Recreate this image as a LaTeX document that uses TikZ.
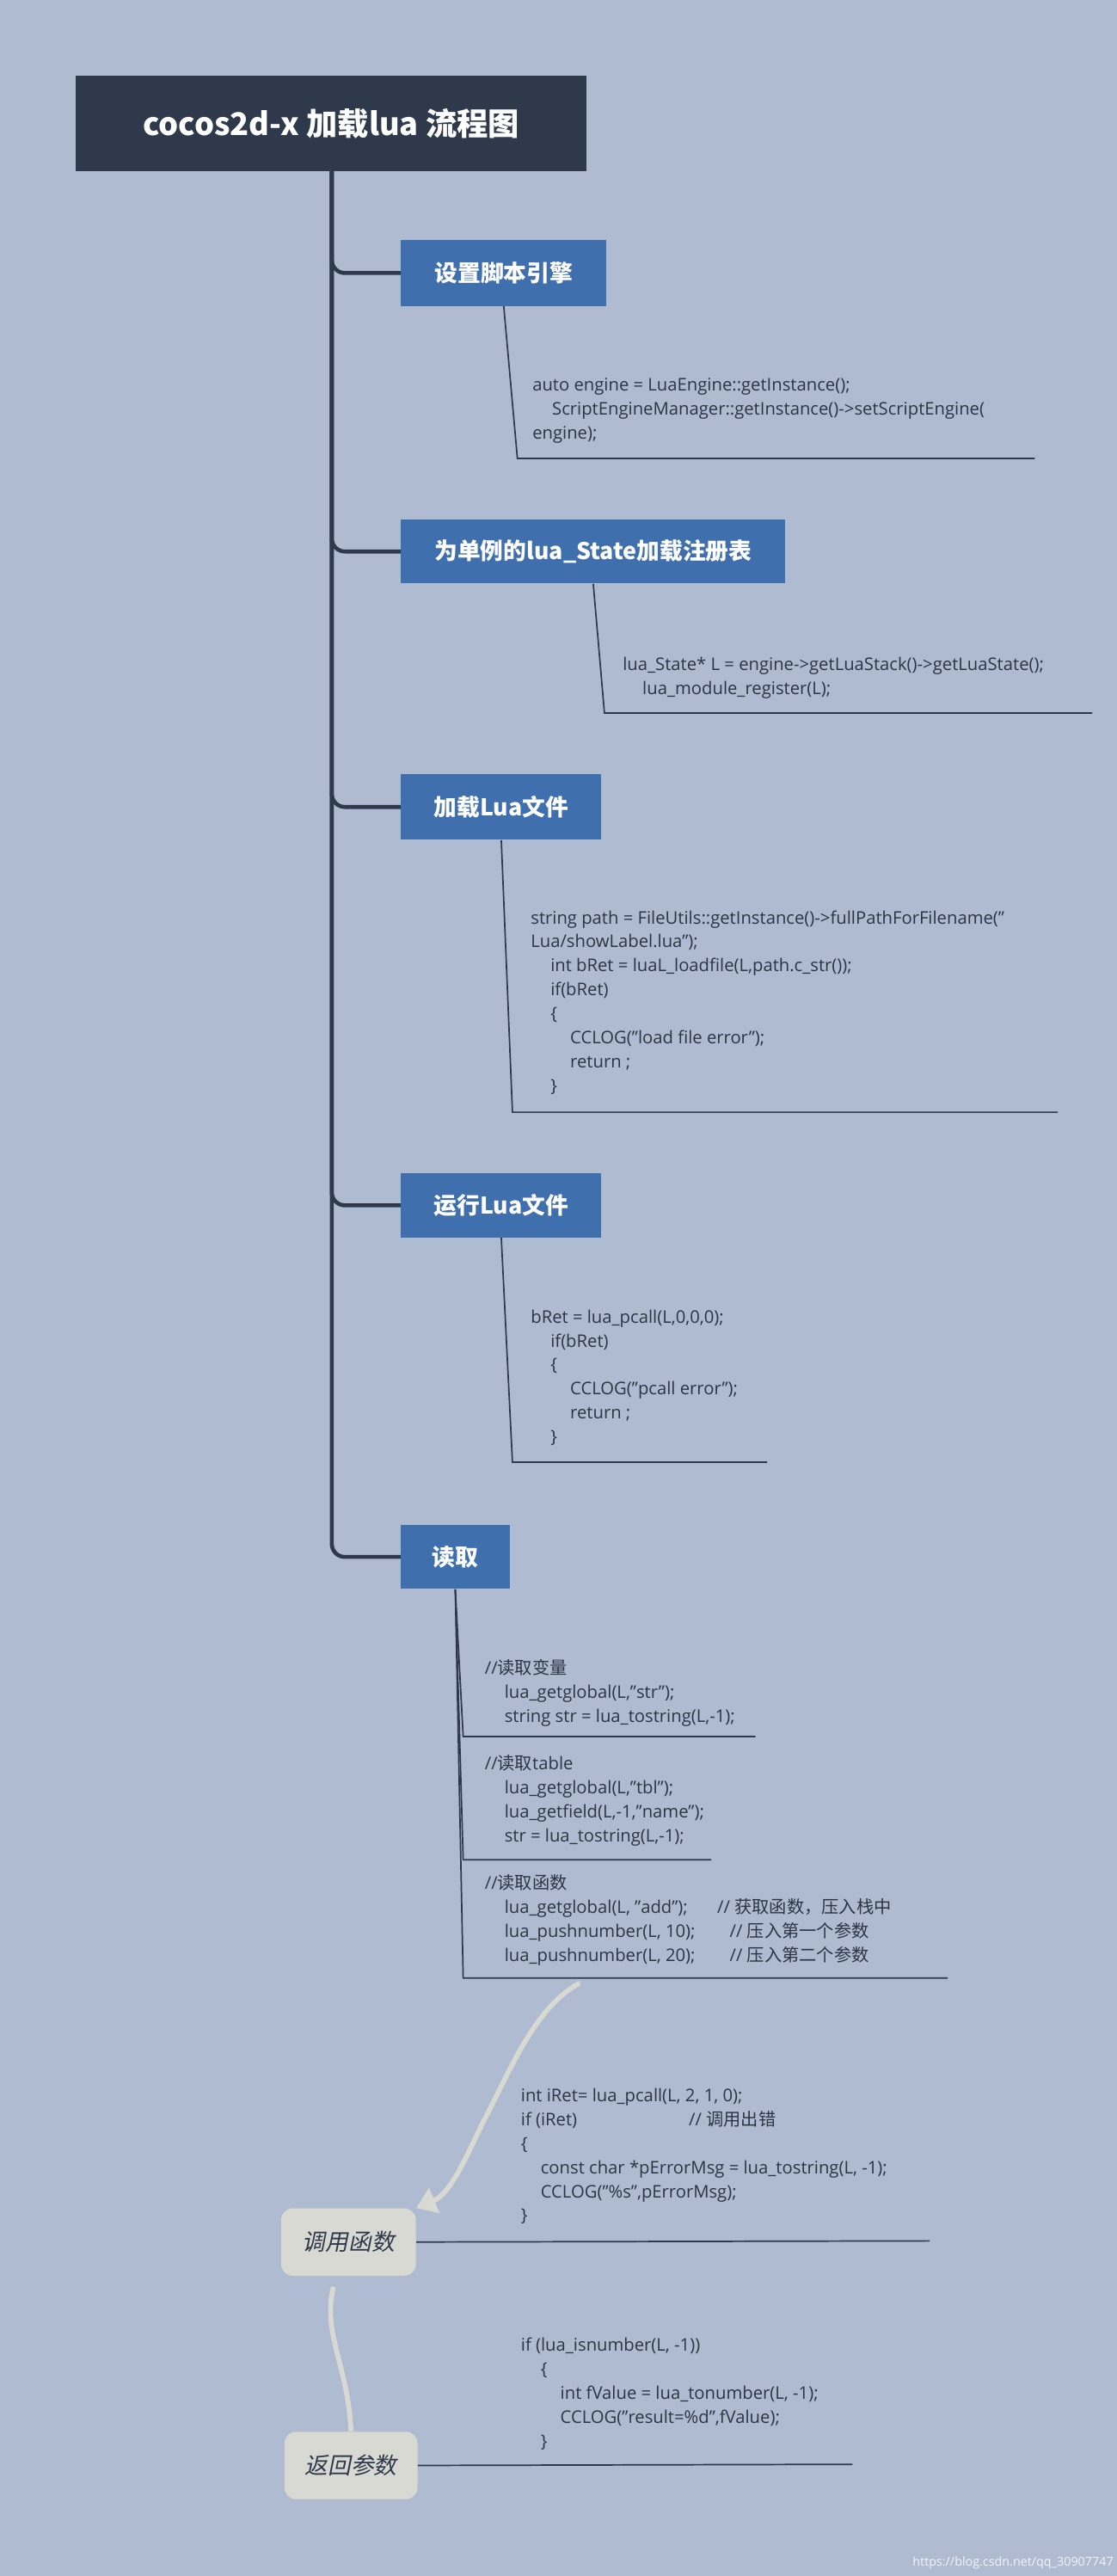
\documentclass[tikz,border=0pt]{standalone}
\usepackage{fontspec}
\setmainfont{Open Sans}
\newfontfamily\cjk{Noto Sans CJK SC}
\newfontfamily\cjksl[FakeSlant=0.2]{Noto Sans CJK SC}
\definecolor{bg}{HTML}{AFBBD0}
\definecolor{dark}{HTML}{2E3A4B}
\definecolor{blu}{HTML}{3F6FAD}
\definecolor{light}{HTML}{D9D9D3}
\definecolor{codec}{HTML}{2B3645}
\tikzset{
 x=1pt,y=-1pt,
 topic/.style={fill=blu,text=white,font=\cjk\bfseries\fontsize{14}{16}\selectfont,inner sep=0pt,anchor=north west},
 code/.style={anchor=north west,align=left,text=codec,font=\fontsize{10.6}{14.6}\selectfont,inner sep=0pt},
 trunk/.style={draw=dark,line width=2.4pt,rounded corners=8pt},
 lead/.style={draw=dark,line width=0.9pt},
 float/.style={fill=light,rounded corners=7pt,text=dark,font=\cjksl\fontsize{14}{16}\selectfont,inner sep=0pt,anchor=north west},
 flow/.style={draw=light,line width=3pt,-{Triangle[length=12pt,width=16pt]}},
}
\usetikzlibrary{arrows.meta}
\newcommand{\ind}{\hspace*{12pt}}
\begin{document}
\begin{tikzpicture}
\fill[bg] (0,0) rectangle (680,1568);
\useasboundingbox (0,0) rectangle (680,1568);
\node[fill=dark,text=white,font=\cjk\bfseries\fontsize{19}{22}\selectfont,minimum width=311pt,minimum height=58pt,inner sep=0pt,anchor=north west] (root) at (46,46) {cocos2d-x 加载lua 流程图};
\coordinate (tr) at (202,104);
\node[topic,minimum width=125pt,minimum height=40pt] (t1) at (244,146) {设置脚本引擎};
\node[topic,minimum width=234pt,minimum height=39pt] (t2) at (244,316) {为单例的lua\_State加载注册表};
\node[topic,minimum width=122pt,minimum height=40pt] (t3) at (244,471) {加载Lua文件};
\node[topic,minimum width=122pt,minimum height=39pt] (t4) at (244,714) {运行Lua文件};
\node[topic,minimum width=66pt,minimum height=39pt] (t5) at (244,928) {读取};
\foreach \t in {t1,t2,t3,t4,t5} \draw[trunk] (tr) |- (\t.west);
% code blocks
\node[code] (c1) at (324,230) {auto engine = LuaEngine::getInstance();\\\ind ScriptEngineManager::getInstance()->setScriptEngine(\\engine);};
\coordinate (u1a) at (315,279); \coordinate (u1b) at (630,279);
\draw[lead] (t1.south) -- (u1a) -- (u1b);
\node[code] (c2) at (379,400) {lua\_State* L = engine->getLuaStack()->getLuaState();\\\ind lua\_module\_register(L);};
\coordinate (u2a) at (368,434); \coordinate (u2b) at (665,434);
\draw[lead] (t2.south) -- (u2a) -- (u2b);
\node[code] (c3) at (323,554) {string path = FileUtils::getInstance()->fullPathForFilename("\\Lua/showLabel.lua");\\\ind int bRet = luaL\_loadfile(L,path.c\_str());\\\ind if(bRet)\\\ind \{\\\ind\ind CCLOG("load file error");\\\ind\ind return ;\\\ind \}};
\coordinate (u3a) at (312,677); \coordinate (u3b) at (644,677);
\draw[lead] (t3.south) -- (u3a) -- (u3b);
\node[code] (c4) at (323,797) {bRet = lua\_pcall(L,0,0,0);\\\ind if(bRet)\\\ind \{\\\ind\ind CCLOG("pcall error");\\\ind\ind return ;\\\ind \}};
\coordinate (u4a) at (312,890); \coordinate (u4b) at (467,890);
\draw[lead] (t4.south) -- (u4a) -- (u4b);
\node[code] (c5) at (295,1010) {//{\cjk 读取变量}\\\ind lua\_getglobal(L,"str");\\\ind string str = lua\_tostring(L,-1);};
\node[code] (c6) at (295,1068) {//{\cjk 读取}table\\\ind lua\_getglobal(L,"tbl");\\\ind lua\_getfield(L,-1,"name");\\\ind str = lua\_tostring(L,-1);};
\node[code] (c7) at (295,1141) {//{\cjk 读取函数}\\\ind lua\_getglobal(L, "add");\hspace{18pt}// {\cjk 获取函数，压入栈中}\\\ind lua\_pushnumber(L, 10);\hspace{21pt}// {\cjk 压入第一个参数}\\\ind lua\_pushnumber(L, 20);\hspace{21pt}// {\cjk 压入第二个参数}};
\coordinate (u5a) at (282,1057); \coordinate (u5b) at (460,1057);
\coordinate (u6a) at (282,1132); \coordinate (u6b) at (433,1132);
\coordinate (u7a) at (282,1204); \coordinate (u7b) at (577,1204);
\draw[lead] (t5.south) -- (u5a) -- (u5b);
\draw[lead] (t5.south) -- (u6a) -- (u6b);
\draw[lead] (t5.south) -- (u7a) -- (u7b);
% floating topics
\node[float,minimum width=82pt,minimum height=41pt] (f1) at (171,1344) {调用函数};
\node[float,minimum width=81pt,minimum height=41pt] (f2) at (173,1480) {返回参数};
\node[code] (c8) at (317,1271) {int iRet= lua\_pcall(L, 2, 1, 0);\\if (iRet)\hspace{68pt}// {\cjk 调用出错}\\\{\\\ind const char *pErrorMsg = lua\_tostring(L, -1);\\\ind CCLOG("\%s",pErrorMsg);\\\}};
\coordinate (u8) at (566,1364);
\draw[lead] (f1.east) -- (u8);
\node[code] (c9) at (317,1423) {if (lua\_isnumber(L, -1))\\\ind \{\\\ind\ind int fValue = lua\_tonumber(L, -1);\\\ind\ind CCLOG("result=\%d",fValue);\\\ind \}};
\coordinate (u9) at (519,1500);
\draw[lead] (f2.east) -- (u9);
\coordinate (s1) at (353,1207);
\draw[flow] (s1) .. controls (325,1222) and (310,1262) .. (295,1290) .. controls (285,1310) and (275,1335) .. (f1.north east);
\coordinate (s2) at (203,1392);
\draw[flow] (s2) .. controls (196,1420) and (212,1440) .. (f2.north) ++(0,0);
\node[anchor=south east,text=white!85!bg,font=\fontsize{7.5}{9}\selectfont,inner sep=2pt] (wm) at (680,1566) {https://blog.csdn.net/qq\_30907747};
\end{tikzpicture}
\end{document}
